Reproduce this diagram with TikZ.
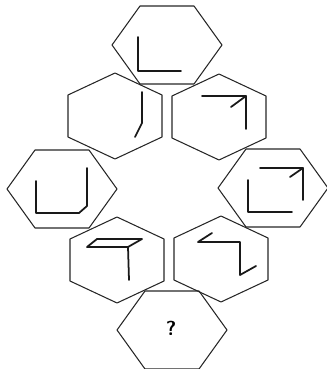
\documentclass[tikz,border=0pt]{standalone}
\usepackage{tikz}
\usetikzlibrary{positioning}
\tikzset{
	cell/.style   ={draw=black!85, line width=0.9pt, line join=round},
	glyph/.style  ={draw=black!90, line width=1.5pt, line cap=round, line join=round},
	qmark/.style  ={font=\sffamily\bfseries\LARGE, inner sep=0pt},
	% flat-topped and pointy-topped cells
	pics/flathex/.style={code={\draw[cell] (-55,0) -- (-27,-39) -- (27,-39) -- (55,0) -- (27,39) -- (-27,39) -- cycle;}},
	pics/pointyhex/.style={code={\draw[cell] (0,-43) -- (47,-21) -- (47,21) -- (0,43) -- (-47,21) -- (-47,-21) -- cycle;}},
}
\begin{document}
\begin{tikzpicture}[x=0.03cm, y=-0.03cm]
	\useasboundingbox (0,0) rectangle (326,369);
	% cells
	\foreach \cx/\cy in {167/45, 62/189, 273/188, 172/330}
		\pic at (\cx,\cy) {flathex};
	\foreach \cx/\cy in {115/116, 219/117, 117/260, 221/259}
		\pic at (\cx,\cy) {pointyhex};
	% figures in the cells
	\draw[glyph] (138,37) -- (138,71) -- (181,71);
	\draw[glyph] (142,92) -- (142,123) -- (135,137);
	\draw[glyph] (202,96) -- (246,96) -- (246,129);
	\draw[glyph] (246,96) -- (231,107);
	\draw[glyph] (36,181) -- (36,213) -- (79,213) -- (87,206) -- (87,168);
	\draw[glyph] (260,168) -- (303,168) -- (303,200);
	\draw[glyph] (303,168) -- (290,177);
	\draw[glyph] (248,180) -- (248,212) -- (292,212);
	\draw[glyph] (97,239) -- (142,239) -- (128,247) -- (87,247) -- cycle;
	\draw[glyph] (128,247) -- (129,280);
	\draw[glyph] (212,233) -- (198,242) -- (240,242) -- (240,275) -- (256,266);
	% the missing cell
	\node[qmark] (ask) at (171,328) {?};
\end{tikzpicture}
\end{document}
